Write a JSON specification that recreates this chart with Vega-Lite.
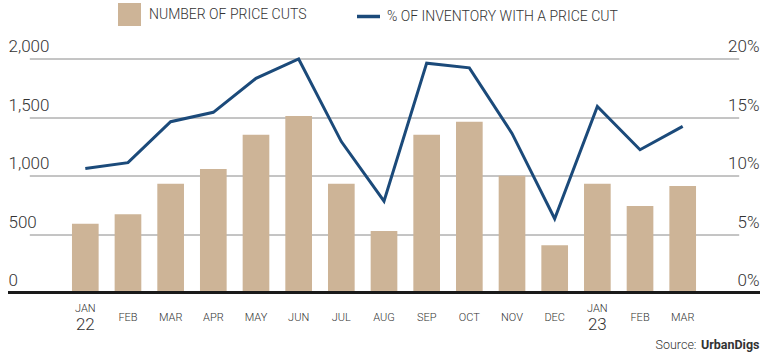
{
  "$schema": "https://vega.github.io/schema/vega-lite/v6.json",
  "width": 752,
  "height": 234,
  "autosize": {"type": "none"},
  "padding": {"left": 8, "top": 58.5, "right": 8, "bottom": 65.5},
  "background": "white",
  "config": {
    "view": {"stroke": null},
    "font": "Roboto, Liberation Sans, sans-serif"
  },
  "data": {
    "values": [
      {"m": "JAN 22", "cuts": 588, "pct": 10.6},
      {"m": "FEB 22", "cuts": 668, "pct": 11.1},
      {"m": "MAR 22", "cuts": 930, "pct": 14.6},
      {"m": "APR 22", "cuts": 1056, "pct": 15.4},
      {"m": "MAY 22", "cuts": 1349, "pct": 18.3},
      {"m": "JUN 22", "cuts": 1509, "pct": 19.96},
      {"m": "JUL 22", "cuts": 930, "pct": 12.9},
      {"m": "AUG 22", "cuts": 526, "pct": 7.8},
      {"m": "SEP 22", "cuts": 1349, "pct": 19.6},
      {"m": "OCT 22", "cuts": 1460, "pct": 19.2},
      {"m": "NOV 22", "cuts": 998, "pct": 13.6},
      {"m": "DEC 22", "cuts": 403, "pct": 6.3},
      {"m": "JAN 23", "cuts": 930, "pct": 15.9},
      {"m": "FEB 23", "cuts": 739, "pct": 12.2},
      {"m": "MAR 23", "cuts": 910, "pct": 14.2}
    ]
  },
  "layer": [
    {
      "mark": {"type": "bar", "color": "#cdb497"},
      "encoding": {
        "x": {
          "field": "m", "type": "ordinal", "sort": null,
          "scale": {"paddingInner": 0.375, "paddingOuter": 1, "range": [21.3, 730.7]},
          "axis": {
            "orient": "bottom",
            "labelExpr": "split(datum.value, ' ')[0]",
            "labelAngle": 0,
            "labelFontSize": 11,
            "labelFontWeight": 300,
            "labelColor": "#333333",
            "labelBaseline": "top",
            "labelPadding": {"condition": {"test": "datum.value == 'JAN 22' || datum.value == 'JAN 23'", "value": 10}, "value": 19},
            "ticks": false,
            "tickSize": 0,
            "domain": false,
            "grid": false,
            "title": "Source:",
            "titleX": 688,
            "titleY": 56,
            "titleAlign": "right",
            "titleBaseline": "alphabetic",
            "titleFontSize": 12.5,
            "titleFontWeight": 300,
            "titleColor": "#333333"
          }
        },
        "y": {
          "field": "cuts", "type": "quantitative",
          "scale": {"domain": [0, 2000], "nice": false},
          "axis": {
            "orient": "left",
            "values": [0, 500, 1000, 1500, 2000],
            "labelExpr": "format(datum.value, ',')",
            "grid": true,
            "gridColor": "#8a8a8a",
            "gridWidth": 1,
            "domain": false,
            "ticks": false,
            "tickSize": 0,
            "labelAlign": "left",
            "labelBaseline": "alphabetic",
            "labelPadding": 0,
            "labelOffset": -7,
            "labelFontSize": 17,
            "labelFontWeight": 300,
            "labelColor": "#333333",
            "title": null
          }
        },
        "color": {
          "datum": "NUMBER OF PRICE CUTS",
          "scale": {"range": ["#cdb497"]},
          "legend": {
            "orient": "none",
            "legendX": 110,
            "legendY": -55.5,
            "title": null,
            "padding": 0,
            "symbolType": "square",
            "symbolSize": 529,
            "symbolStrokeWidth": 0,
            "labelFontSize": 14,
            "labelFontWeight": 300,
            "labelLimit": 0,
            "labelColor": "#333333",
            "labelOffset": 8
          }
        }
      }
    },
    {
      "mark": {"type": "rule", "color": "#1a1a1a", "strokeWidth": 2},
      "encoding": {"y": {"datum": 0, "type": "quantitative", "scale": {"domain": [0, 2000], "nice": false}, "axis": null}}
    },
    {
      "mark": {"type": "line", "strokeWidth": 3, "color": "#1b4a7a"},
      "encoding": {
        "x": {
          "field": "m", "type": "ordinal", "sort": null,
          "axis": {
            "orient": "bottom",
            "labelExpr": "datum.value == 'JAN 22' ? '22' : (datum.value == 'JAN 23' ? '23' : '')",
            "labelAngle": 0,
            "labelFontSize": 17,
            "labelFontWeight": 300,
            "labelColor": "#333333",
            "labelBaseline": "top",
            "labelPadding": 23.5,
            "ticks": false,
            "tickSize": 0,
            "domain": false,
            "grid": false,
            "title": "UrbanDigs",
            "titleX": 751,
            "titleY": 56,
            "titleAlign": "right",
            "titleBaseline": "alphabetic",
            "titleFontSize": 12.5,
            "titleFontWeight": "bold",
            "titleColor": "#333333"
          }
        },
        "y": {
          "field": "pct", "type": "quantitative",
          "scale": {"domain": [0, 20], "nice": false},
          "axis": {
            "orient": "right",
            "values": [0, 5, 10, 15, 20],
            "labelExpr": "datum.value + '%'",
            "grid": false,
            "domain": false,
            "ticks": false,
            "tickSize": 0,
            "labelAlign": "right",
            "labelBaseline": "alphabetic",
            "labelPadding": -1,
            "labelOffset": -7,
            "labelFontSize": 17,
            "labelFontWeight": 300,
            "labelColor": "#333333",
            "title": null
          }
        },
        "stroke": {
          "datum": "% OF INVENTORY WITH A PRICE CUT",
          "scale": {"range": ["#1b4a7a"]},
          "legend": {
            "orient": "none",
            "legendX": 347,
            "legendY": -55.5,
            "title": null,
            "padding": 0,
            "symbolType": "stroke",
            "symbolSize": 529,
            "symbolStrokeWidth": 3.5,
            "labelFontSize": 14,
            "labelFontWeight": 300,
            "labelLimit": 0,
            "labelColor": "#333333",
            "labelOffset": 5
          }
        }
      }
    }
  ],
  "resolve": {
    "scale": {"y": "independent"},
    "axis": {"x": "independent", "y": "independent"}
  }
}
